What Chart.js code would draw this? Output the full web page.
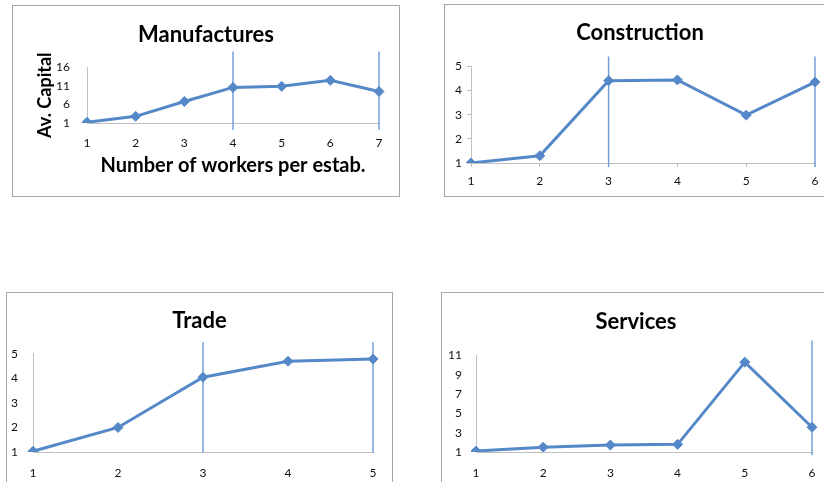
<!DOCTYPE html>
<html>
<head>
<meta charset="utf-8">
<script src="https://cdn.jsdelivr.net/npm/chart.js@4"></script>
<style>
  html, body { margin: 0; padding: 0; background: #fff; overflow: hidden; width: 824px; height: 482px; }
  .panel { position: absolute; border: 1px solid #a6a6a6; box-sizing: border-box; }
  .panel canvas { position: absolute; left: -1px; top: -1px; }
</style>
</head>
<body>
<div class="panel" style="left:12px;top:5px;width:388px;height:192px"><canvas id="manuf" width="388" height="192"></canvas></div>
<div class="panel" style="left:444px;top:4px;width:392px;height:193px"><canvas id="constr" width="392" height="193"></canvas></div>
<div class="panel" style="left:6px;top:292px;width:387px;height:200px"><canvas id="trade" width="387" height="200"></canvas></div>
<div class="panel" style="left:441px;top:292px;width:390px;height:200px"><canvas id="serv" width="390" height="200"></canvas></div>
<script>
// data
const manufLabels = ['1', '2', '3', '4', '5', '6', '7'];
const manufValues = [1.2, 2.8, 6.8, 10.6, 10.9, 12.5, 9.5];
const manufMarks = ['4', '7'];

const constrLabels = ['1', '2', '3', '4', '5', '6'];
const constrValues = [1.0, 1.3, 4.41, 4.44, 2.98, 4.35];
const constrMarks = ['3', '6'];

const tradeLabels = ['1', '2', '3', '4', '5'];
const tradeValues = [1.03, 2.0, 4.05, 4.7, 4.79];
const tradeMarks = ['3', '5'];

const servLabels = ['1', '2', '3', '4', '5', '6'];
const servValues = [1.1, 1.5, 1.72, 1.79, 10.3, 3.56];
const servMarks = ['6'];

Chart.defaults.font.family = 'Lato, "Open Sans", sans-serif';
Chart.defaults.color = '#111';

const BLUE = '#5588c8';
const AXIS = '#bfbfbf';

// thin vertical lines at some categories
const markLines = {
  id: 'markLines',
  beforeDatasetsDraw(chart, args, opts) {
    const { ctx, chartArea, scales: { x } } = chart;
    ctx.save();
    ctx.strokeStyle = '#74a0d8';
    ctx.lineWidth = 1.5;
    (opts.at || []).forEach(v => {
      const px = x.getPixelForValue(x.getLabels().indexOf(v));
      ctx.beginPath();
      ctx.moveTo(px, chartArea.top - opts.above);
      ctx.lineTo(px, chartArea.bottom + opts.below);
      ctx.stroke();
    });
    ctx.restore();
  }
};

function panel(id, labels, values, marks, o) {
  new Chart(document.getElementById(id), {
    type: 'line',
    data: {
      labels: labels,
      datasets: [{
        data: values,
        borderColor: BLUE,
        backgroundColor: BLUE,
        borderWidth: 3,
        pointStyle: 'rectRot',
        pointRadius: 5,
        pointBorderWidth: 1,
        tension: 0
      }]
    },
    options: {
      responsive: false,
      animation: false,
      layout: { padding: 0 },
      plugins: {
        legend: { display: false },
        tooltip: { enabled: false },
        title: {
          display: true,
          text: o.title,
          color: '#000',
          font: { size: 22, weight: 'bold' },
          padding: { top: o.titleTop, bottom: o.titleBottom }
        },
        markLines: { at: marks, above: o.above, below: o.below }
      },
      scales: {
        x: {
          offset: false,
          afterFit: s => { s.height = o.xHeight; },
          grid: { display: !!o.ticks, drawOnChartArea: false, tickLength: 4, color: AXIS },
          border: { display: true, color: AXIS, width: 1 },
          ticks: { font: { size: 12 }, padding: o.xPad, maxRotation: 0, autoSkip: false },
          title: o.xTitle ? {
            display: true, text: o.xTitle, color: '#000',
            font: { size: 20, weight: 'bold' }, padding: { top: 0, bottom: 19 }
          } : { display: false }
        },
        y: {
          min: o.min, max: o.max,
          afterFit: s => { s.width = o.yWidth; },
          grid: { display: !!o.ticks, drawOnChartArea: false, tickLength: 4, color: AXIS },
          border: { display: true, color: AXIS, width: 1 },
          ticks: { stepSize: o.step, font: { size: 12 }, padding: o.yPad },
          title: o.yTitle ? {
            display: true, text: o.yTitle, color: '#000',
            font: { size: 18, weight: 'bold' }, padding: { top: 22, bottom: 0 }
          } : { display: false }
        },
        // empty right-hand axis, only keeps a margin so the title stays centred on the box
        side: {
          position: 'right',
          afterFit: s => { s.width = o.right; },
          grid: { display: false },
          border: { display: false },
          ticks: { display: false }
        }
      }
    },
    plugins: [markLines]
  });
}

panel('manuf', manufLabels, manufValues, manufMarks, {
  title: 'Manufactures', titleTop: 17, titleBottom: 19, right: 21,
  min: 1, max: 16, step: 5, yWidth: 75, xHeight: 74, xPad: 9, yPad: 13,
  xTitle: 'Number of workers per estab.', yTitle: 'Av. Capital', above: 16, below: 7
});
panel('constr', constrLabels, constrValues, constrMarks, {
  title: 'Construction', titleTop: 16, titleBottom: 20, right: 21,
  min: 1, max: 5, step: 1, yWidth: 27, xHeight: 34, xPad: 6.5, yPad: 5, ticks: true,
  above: 10, below: 4
});
panel('trade', tradeLabels, tradeValues, tradeMarks, {
  title: 'Trade', titleTop: 15.5, titleBottom: 20, right: 20,
  min: 1, max: 5, step: 1, yWidth: 27, xHeight: 40, xPad: 9.5, yPad: 11,
  above: 12, below: 1
});
panel('serv', servLabels, servValues, servMarks, {
  title: 'Services', titleTop: 17, titleBottom: 20, right: 19,
  min: 1, max: 11, step: 2, yWidth: 35, xHeight: 40, xPad: 9.5, yPad: 10,
  above: 15, below: 3
});
</script>
</body>
</html>
